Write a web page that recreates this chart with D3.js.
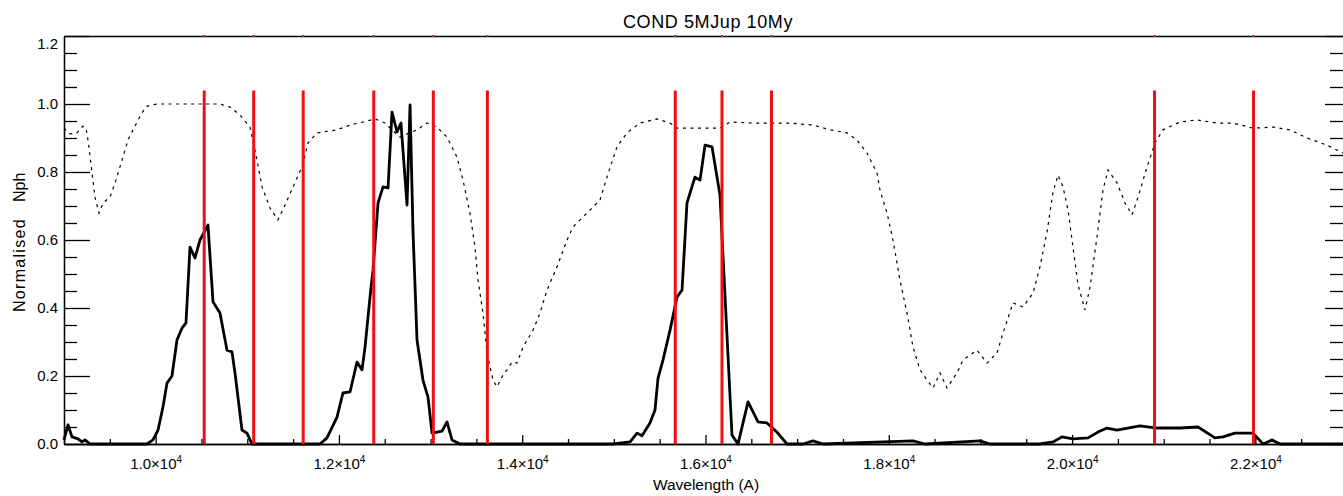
<!DOCTYPE html>
<html>
<head>
<meta charset="utf-8">
<script src="https://cdn.jsdelivr.net/npm/d3@7"></script>
<style>
  html, body { margin: 0; padding: 0; background: #fff; }
  svg { display: block; }
  text { font-family: "Liberation Sans", Arial, sans-serif; fill: #000; }
</style>
</head>
<body>
<svg id="chart" width="1343" height="496"></svg>
<script>
// ---- data ----
const titleText = "COND 5MJup 10My";
const xLabelText = "Wavelength (A)";
const yLabelParts = ["Normalised", "Nph"];

// dotted curve: atmospheric / filter transmission
const transWave = [9000,9065,9142,9207,9240,9262,9306,9338,9382,9426,9502,9567,9633,9698,9786,9851,9906,10015,10702,10811,10920,11029,11095,11161,11248,11335,11412,11499,11597,11662,11761,11979,12121,12263,12394,12503,12579,12666,12852,12961,13070,13179,13288,13354,13430,13485,13518,13572,13616,13681,13725,13790,13834,13889,13943,14009,14118,14194,14271,14380,14489,14554,14631,14740,14849,14925,15034,15143,15285,15471,15613,15689,15907,16158,16267,16518,16704,16922,17173,17359,17544,17653,17762,17871,17904,17981,18046,18122,18199,18264,18341,18417,18483,18559,18635,18744,18810,18963,19072,19181,19246,19356,19465,19574,19650,19727,19792,19847,19901,19956,20010,20065,20141,20196,20272,20337,20392,20490,20578,20654,20720,20818,20905,20992,21178,21363,21581,21756,21974,22193,22378,22564,22782,23000];
const transValue = [0.929,0.912,0.915,0.935,0.929,0.894,0.797,0.726,0.679,0.709,0.726,0.776,0.835,0.894,0.941,0.974,0.994,1.000,1.000,0.991,0.968,0.932,0.850,0.756,0.694,0.659,0.703,0.756,0.815,0.885,0.915,0.924,0.938,0.947,0.956,0.944,0.924,0.903,0.924,0.944,0.932,0.903,0.844,0.776,0.679,0.579,0.482,0.385,0.268,0.188,0.168,0.203,0.218,0.241,0.238,0.285,0.335,0.385,0.453,0.521,0.600,0.638,0.659,0.688,0.718,0.785,0.874,0.915,0.944,0.956,0.944,0.929,0.929,0.929,0.947,0.944,0.944,0.944,0.938,0.924,0.915,0.894,0.856,0.797,0.747,0.679,0.600,0.482,0.385,0.285,0.218,0.188,0.165,0.209,0.165,0.209,0.247,0.276,0.238,0.268,0.326,0.415,0.403,0.444,0.521,0.624,0.741,0.791,0.756,0.688,0.579,0.468,0.394,0.462,0.609,0.747,0.806,0.768,0.709,0.674,0.726,0.815,0.885,0.924,0.947,0.953,0.944,0.944,0.929,0.932,0.924,0.900,0.879,0.850];

// solid curve: normalised photon spectrum
const specWave = [9000,9044,9087,9153,9196,9229,9284,9906,9971,10026,10080,10124,10178,10233,10288,10331,10375,10429,10484,10571,10626,10702,10779,10833,10866,10942,10997,11051,11794,11870,11979,12044,12121,12197,12252,12285,12339,12372,12427,12481,12536,12579,12634,12677,12743,12776,12808,12852,12917,12972,13016,13070,13125,13179,13234,13321,14991,15177,15253,15307,15394,15449,15482,15536,15613,15689,15744,15798,15885,15940,15995,16071,16158,16289,16355,16464,16573,16671,16780,16889,17064,17173,17282,18264,18395,18995,19104,19650,19792,19890,20010,20174,20283,20381,20490,20741,20926,21178,21374,21560,21647,21778,21974,22084,22182,22269,23000];
const specValue = [0.012,0.056,0.021,0.015,0.006,0.012,0,0,0.012,0.041,0.109,0.179,0.200,0.306,0.341,0.356,0.579,0.547,0.600,0.644,0.418,0.385,0.276,0.271,0.209,0.041,0.032,0,0,0.018,0.079,0.150,0.153,0.241,0.218,0.285,0.432,0.512,0.709,0.756,0.753,0.976,0.918,0.944,0.703,0.997,0.629,0.306,0.188,0.138,0.032,0.035,0.038,0.065,0.012,0,0,0.006,0.032,0.024,0.062,0.100,0.194,0.247,0.335,0.432,0.453,0.709,0.785,0.776,0.879,0.874,0.732,0.026,0,0.124,0.065,0.062,0.035,0,0,0.009,0,0.009,0,0.009,0,0,0.006,0.021,0.015,0.018,0.035,0.047,0.041,0.053,0.047,0.047,0.050,0.018,0.021,0.032,0.032,0,0.012,0,0];

// red vertical marker wavelengths
const markerWave = [10530,11070,11610,12380,13030,13620,15670,16180,16720,20900,21980];
const markerTop = 1.04;

// ticks
const xMajorTicks = [10000,12000,14000,16000,18000,20000,22000];
const xTickLabels = ["1.0","1.2","1.4","1.6","1.8","2.0","2.2"];
const yMajorTicks = [0,0.2,0.4,0.6,0.8,1.0,1.2];
const yTickLabels = ["0.0","0.2","0.4","0.6","0.8","1.0","1.2"];

// ---- layout ----
const L = 64, R = 1347, T = 36, B = 444;
const svg = d3.select("#chart");

const x = d3.scaleLinear().domain([9000, 23000]).range([L, R]);
const y = d3.scaleLinear().domain([0, 1.2]).range([B, T]);

const xMinor = d3.range(9000, 23001, 500).filter(v => v % 2000 !== 0);
const yMinor = d3.range(0, 25).map(i => +(i * 0.05).toFixed(2)).filter(v => Math.round(v * 100) % 20 !== 0);

const axisStyle = g => {
  g.selectAll("path.domain").attr("stroke", "#000").attr("stroke-width", 1.3);
  g.selectAll(".tick line").attr("stroke", "#000").attr("stroke-width", 1.3);
  g.selectAll(".tick text").attr("font-size", 15).attr("fill", "#000")
    .attr("font-family", "'Liberation Sans', Arial, sans-serif");
};

// left axis
svg.append("g").attr("transform", `translate(${L},0)`)
  .call(d3.axisLeft(y).tickValues(yMinor).tickSizeInner(-13).tickSizeOuter(0).tickFormat(""))
  .call(axisStyle);
const yAx = svg.append("g").attr("transform", `translate(${L},0)`)
  .call(d3.axisLeft(y).tickValues(yMajorTicks).tickSizeInner(-26).tickSizeOuter(0).tickPadding(6)
    .tickFormat((d, i) => yTickLabels[i]))
  .call(axisStyle);
yAx.selectAll(".tick").filter(d => d === 1.2).select("text").attr("dy", "0.8em");

// right axis
svg.append("g").attr("transform", `translate(${R},0)`)
  .call(d3.axisRight(y).tickValues(yMinor).tickSizeInner(-17).tickSizeOuter(0).tickFormat(""))
  .call(axisStyle);
svg.append("g").attr("transform", `translate(${R},0)`)
  .call(d3.axisRight(y).tickValues(yMajorTicks).tickSizeInner(-22).tickSizeOuter(0).tickFormat(""))
  .call(axisStyle);

// top axis (frame line)
svg.append("g").attr("transform", `translate(0,${T})`)
  .call(d3.axisTop(x).tickValues([]).tickSizeOuter(0))
  .call(axisStyle);

// bottom axis
svg.append("g").attr("transform", `translate(0,${B})`)
  .call(d3.axisBottom(x).tickValues(xMinor).tickSizeInner(-5).tickSizeOuter(0).tickFormat(""))
  .call(axisStyle);
const xAx = svg.append("g").attr("transform", `translate(0,${B})`)
  .call(d3.axisBottom(x).tickValues(xMajorTicks).tickSizeInner(-9).tickSizeOuter(0).tickPadding(14)
    .tickFormat(""))
  .call(axisStyle);
xAx.selectAll(".tick").each(function(d, i) {
  const t = d3.select(this).append("text")
    .attr("y", 25).attr("text-anchor", "middle")
    .attr("font-size", 15).attr("fill", "#000");
  t.append("tspan").text(xTickLabels[i] + "\u00D710");
  t.append("tspan").attr("dy", "-6").attr("font-size", 10).text("4");
});

// dotted transmission curve
const transData = transWave.map((w, i) => [w, transValue[i]]);
const line = d3.line().x(d => x(d[0])).y(d => y(d[1]));
svg.append("path").datum(transData)
  .attr("d", line).attr("fill", "none")
  .attr("stroke", "#000").attr("stroke-width", 1.2)
  .attr("stroke-dasharray", "3,4.5");

// solid spectrum curve
const specData = specWave.map((w, i) => [w, specValue[i]]);
svg.append("path").datum(specData)
  .attr("d", line).attr("fill", "none")
  .attr("stroke", "#000").attr("stroke-width", 2.8)
  .attr("stroke-linejoin", "round");

// red marker lines
svg.append("g").selectAll("line.marker").data(markerWave).join("line")
  .attr("class", "marker")
  .attr("x1", d => x(d)).attr("x2", d => x(d))
  .attr("y1", y(markerTop)).attr("y2", y(0))
  .attr("stroke", "#ee1111").attr("stroke-width", 3);
svg.append("g").selectAll("line.markerTop").data(markerWave).join("line")
  .attr("class", "markerTop")
  .attr("x1", d => x(d)).attr("x2", d => x(d))
  .attr("y1", y(1.2) - 1).attr("y2", y(1.2) + 1)
  .attr("stroke", "#ee1111").attr("stroke-width", 2);

// title
svg.append("text").attr("x", 708).attr("y", 28)
  .attr("text-anchor", "middle").attr("font-size", 18)
  .attr("letter-spacing", 0.6).text(titleText);

// x label
svg.append("text").attr("x", 706).attr("y", 490)
  .attr("text-anchor", "middle").attr("font-size", 15.5).text(xLabelText);

// y label
const yl = svg.append("text").attr("transform", "translate(25,0) rotate(-90)")
  .attr("font-size", 16);
yl.append("tspan").attr("x", -312).attr("letter-spacing", 1.3).text(yLabelParts[0]);
yl.append("tspan").attr("x", -202).attr("letter-spacing", 0).text(yLabelParts[1]);
</script>
</body>
</html>
